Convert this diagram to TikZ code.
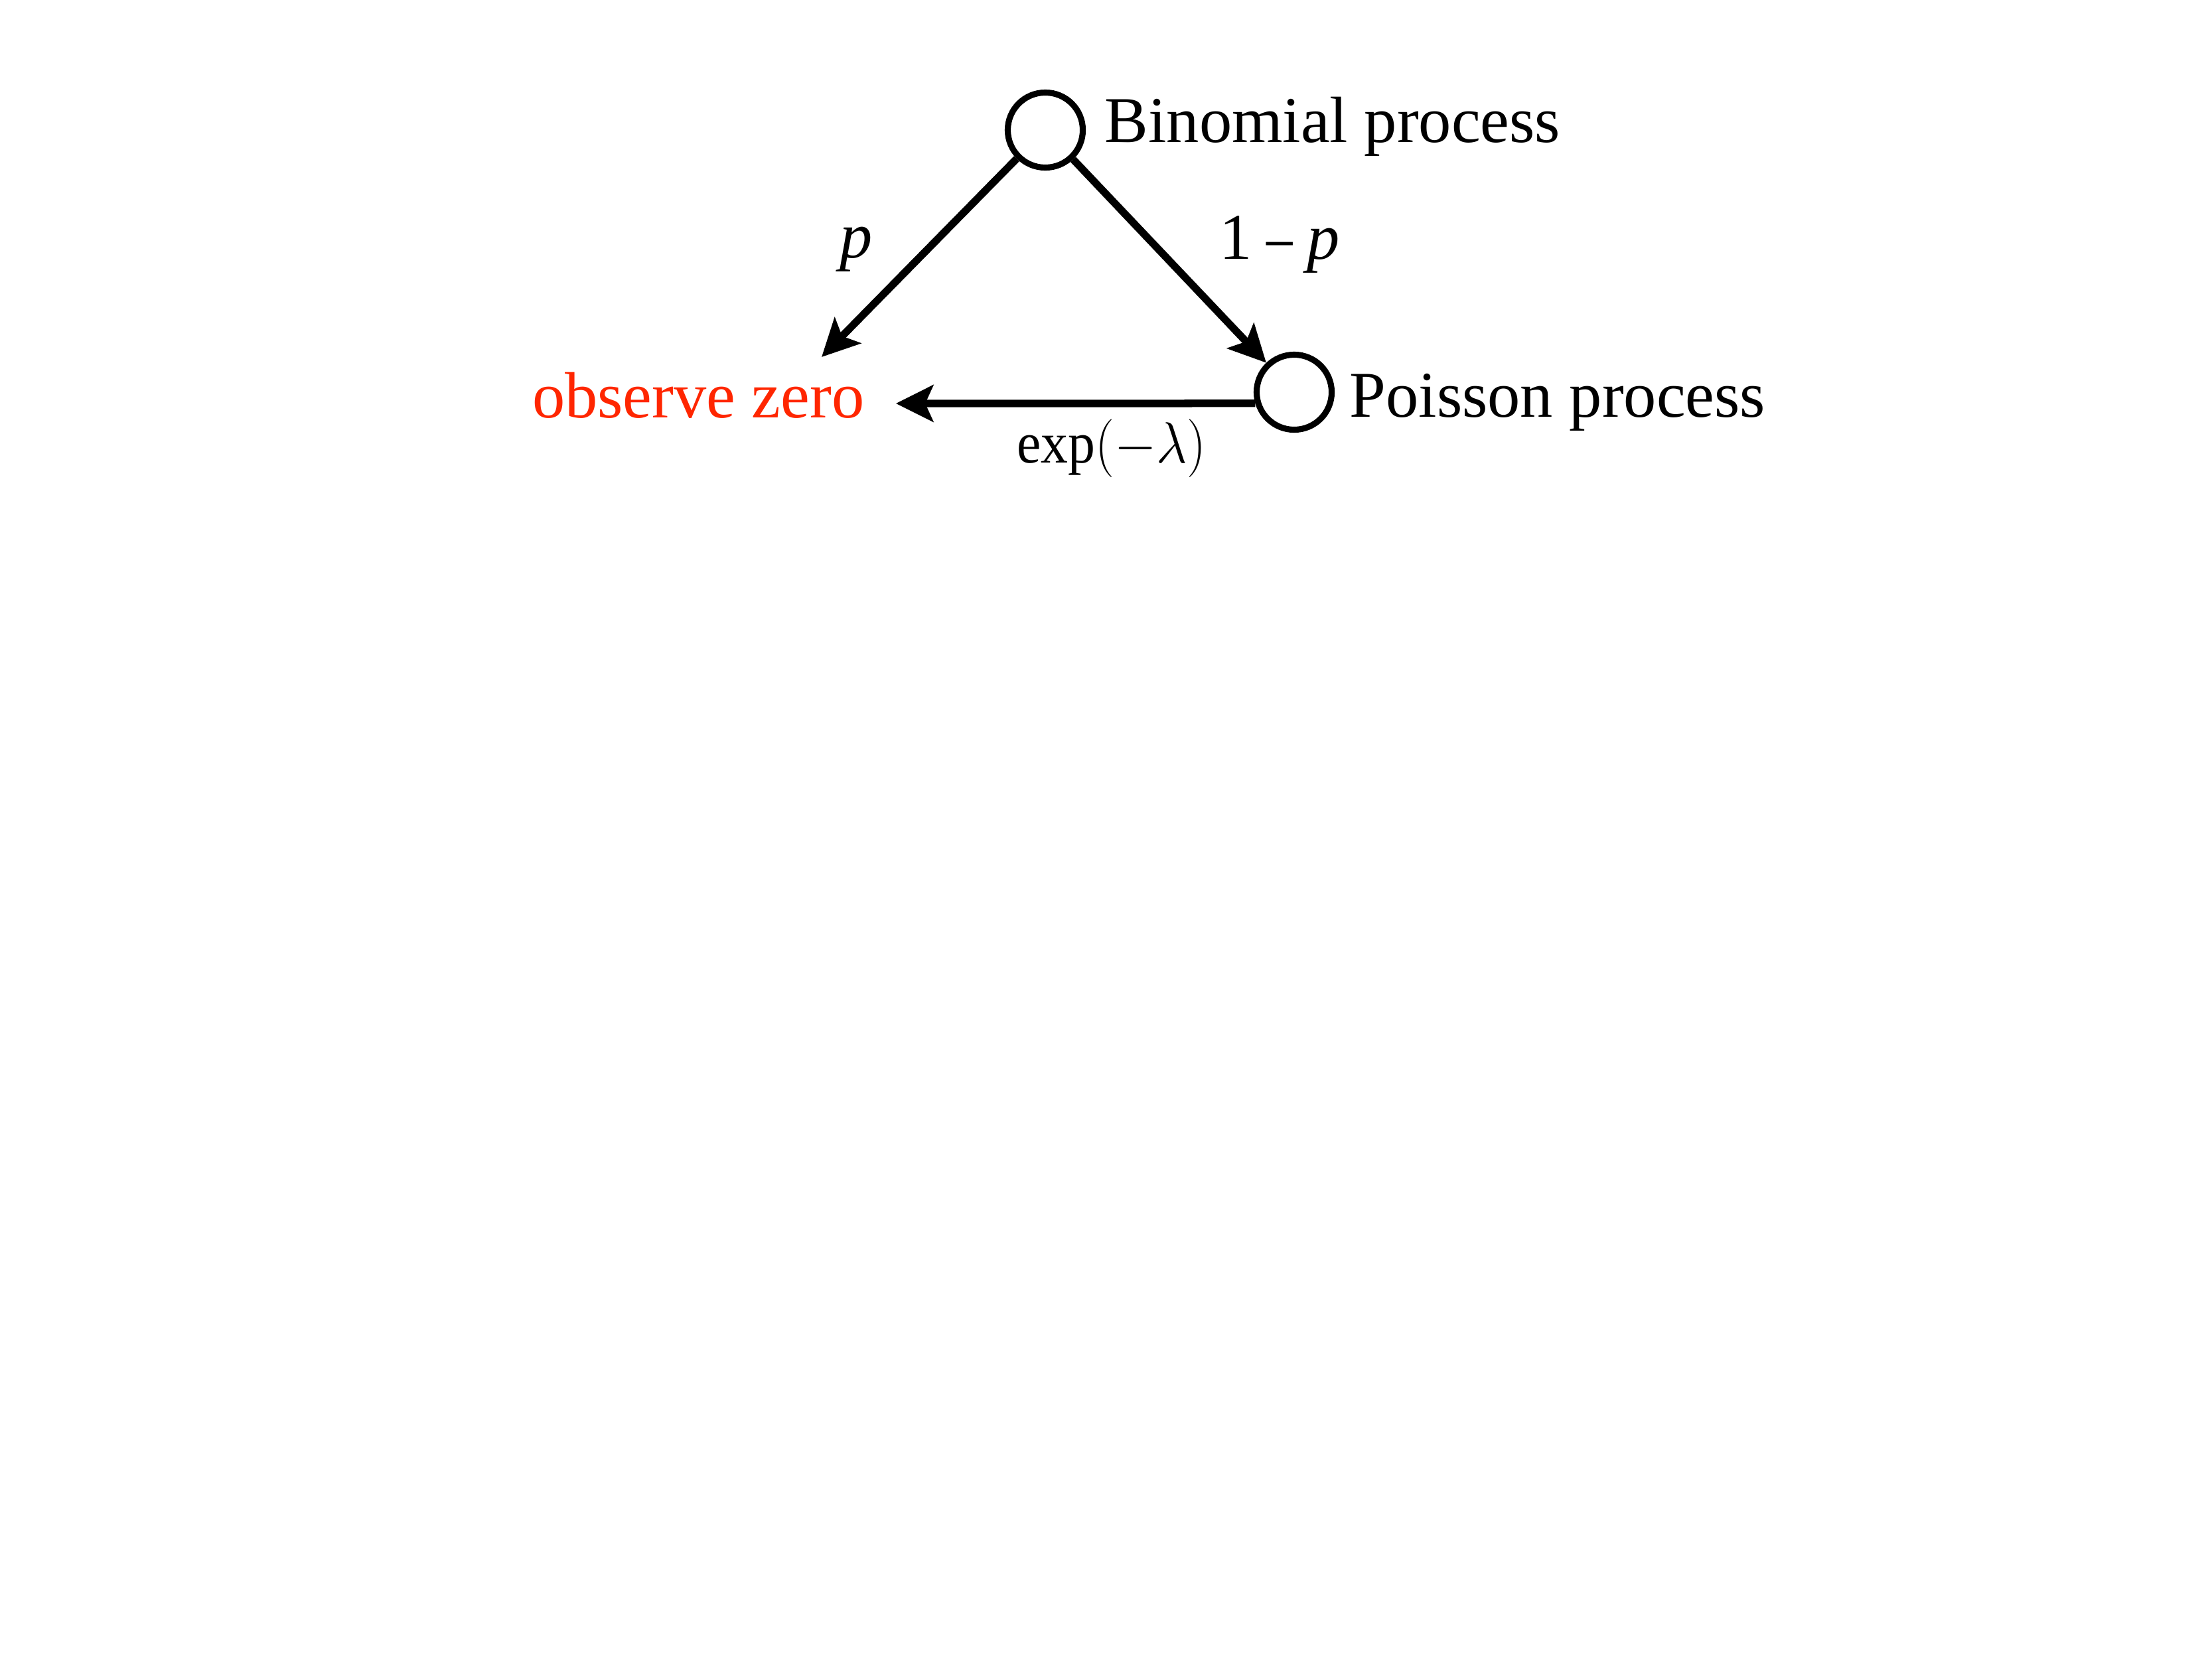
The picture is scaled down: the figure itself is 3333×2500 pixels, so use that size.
\documentclass[tikz,border=0pt]{standalone}
\usepackage{fontspec}
\setmainfont{Liberation Serif}
\usetikzlibrary{arrows.meta}
\definecolor{obsred}{RGB}{255,38,0}
\begin{document}
\begin{tikzpicture}[x=0.01cm,y=-0.01cm,
  state/.style={circle,draw,line width=2.6pt,minimum size=1.13cm,inner sep=0pt},
  lbl/.style={inner sep=0pt,font=\fontsize{28}{34}\selectfont},
  conn/.style={line width=3.2pt,-{Stealth[length=0.56cm,width=0.55cm,inset=0.12cm]}}]
\useasboundingbox (0,0) rectangle (3333,2500);
\node[state] (B) at (1575,196) {};
\node[state] (P) at (1950,591) {};
\node[lbl,anchor=base west] (Bl) at (1664,215) {Binomial process};
\node[lbl,anchor=base west] (Pl) at (2033,628) {Poisson process};
\node[lbl,anchor=base east,text=obsred] (Z) at (1303,629) {observe zero};
\coordinate (zt) at (1238,538);
\coordinate (zh) at (1350,608);
\draw[conn] (B.225) -- (zt);
\draw[conn] (B) -- (P);
\draw[conn] (P.196) -- (zh);
\node[lbl,anchor=base] (lp) at (1290,388) {\textit{p}};
\node[lbl,anchor=base] (lq) at (1928,390) {1\hspace{0.22em}\scalebox{0.8}[1]{–}\hspace{0.22em}\textit{p}};
\node[inner sep=0pt,anchor=base,font=\fontsize{25}{30}\selectfont] (le) at (1675,697) {\scalebox{0.93}[1]{$\exp(-\lambda)$}};
\end{tikzpicture}
\end{document}
